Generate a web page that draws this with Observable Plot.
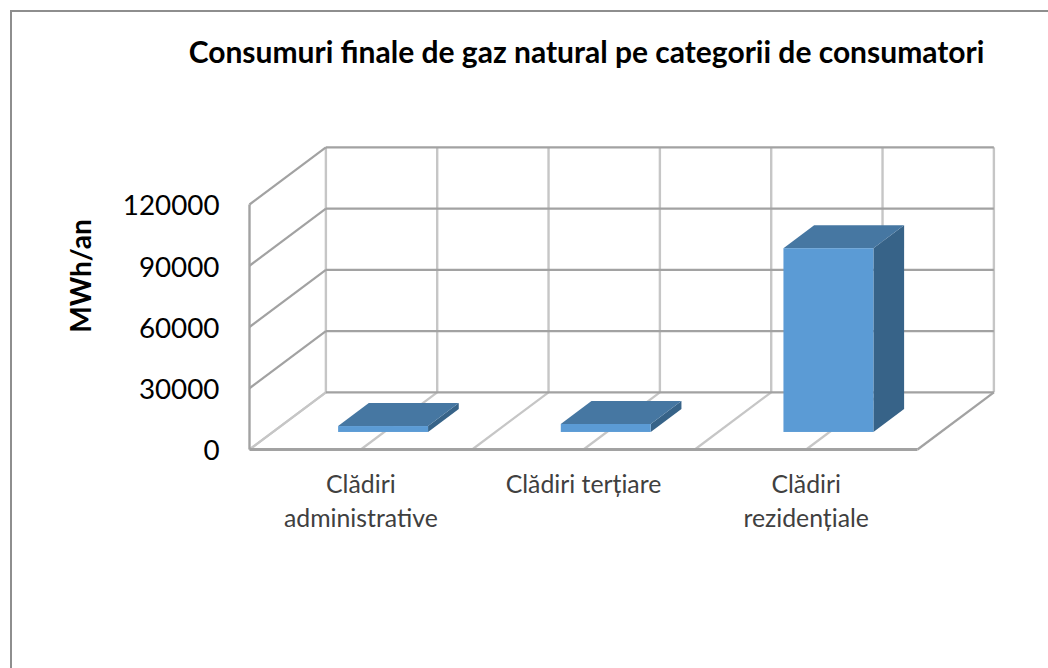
<!DOCTYPE html>
<html>
<head>
<meta charset="utf-8">
<script src="https://cdn.jsdelivr.net/npm/d3@7"></script>
<script src="https://cdn.jsdelivr.net/npm/@observablehq/plot@0.6"></script>
<style>
html,body{margin:0;padding:0;background:#fff;overflow:hidden}
#page{position:relative;width:1048px;height:668px;overflow:hidden}
#frame{position:absolute;left:10px;top:10px;width:1040px;height:660px;border-left:2px solid #8e8e8e;border-top:2px solid #8e8e8e}
#title{position:absolute;left:0;top:33px;width:1173px;text-align:center;font:700 30px Lato,sans-serif;color:#000;white-space:nowrap}
#chart{position:absolute;left:0;top:0}
</style>
</head>
<body>
<div id="page"><div id="frame"></div><div id="chart"></div><div id="title"></div></div>
<script>
const titleText = "Consumuri finale de gaz natural pe categorii de consumatori";
const yAxisLabel = "MWh/an";
const categories = ["Clădiri\nadministrative", "Clădiri terțiare", "Clădiri\nrezidențiale"];
const values = [2900, 3900, 90000];
const yTicks = [0, 30000, 60000, 90000, 120000];
const xGrid = [0, 0.5, 1, 1.5, 2, 2.5, 3];

const depthX = 0.343, depthY = 28000;     // the oblique offset of the back plane, in data units
const barFront = 0.298, barBack = 0.70, barHalf = 0.202;
const px = (x, d) => x + d * depthX;
const py = (y, d) => y + d * depthY;

const bars = values.map((v, i) => ({i, v, l: i + 0.5 - barHalf, r: i + 0.5 + barHalf}));
const sidePts = bars.flatMap(b => [barFront, barBack].map(d => ({
  i: b.i, x: px(b.r, d), y1: py(0, d), y2: py(b.v, d)
})));
const topPts = bars.flatMap(b => [barFront, barBack].map(d => ({
  i: b.i, y: py(b.v, d), x1: px(b.l, d), x2: px(b.r, d)
})));

const dark = "#a2a2a2", light = "#c6c6c6";
const plot = Plot.plot({
  width: 1048, height: 668,
  margin: 0,
  x: {domain: [0, 3], range: [249, 917], axis: null},
  y: {domain: [0, 120000], range: [449, 204], axis: null},
  style: {background: "transparent"},
  marks: [
    // back wall verticals, floor diagonals
    Plot.link(xGrid, {x1: d => px(d, 1), x2: d => px(d, 1), y1: py(0, 1), y2: py(120000, 1), stroke: light, strokeWidth: 2.4}),
    Plot.link(xGrid, {x1: d => d, x2: d => px(d, 1), y1: 0, y2: py(0, 1), stroke: d => d === 3 ? dark : light, strokeWidth: 2.2}),
    // back wall horizontals, left wall diagonals
    Plot.link(yTicks, {x1: 0, x2: px(0, 1), y1: d => d, y2: d => py(d, 1), stroke: d => d === 0 ? light : dark, strokeWidth: 2.2}),
    Plot.link(yTicks, {x1: px(0, 1), x2: px(3, 1), y1: d => py(d, 1), y2: d => py(d, 1), stroke: dark, strokeWidth: 2.4}),
    // front edges
    Plot.link([0], {x1: 0, x2: 0, y1: 0, y2: 120000, stroke: dark, strokeWidth: 2.4}),
    Plot.link([0], {x1: 0, x2: 3, y1: 0, y2: 0, stroke: dark, strokeWidth: 2.8}),
    // bars
    Plot.areaY(sidePts, {x: "x", y1: "y1", y2: "y2", z: "i", fill: "#376388"}),
    Plot.areaX(topPts, {y: "y", x1: "x1", x2: "x2", z: "i", fill: "#4677a2"}),
    Plot.rect(bars, {
      x1: d => px(d.l, barFront), x2: d => px(d.r, barFront),
      y1: py(0, barFront), y2: d => py(d.v, barFront),
      fill: "#5b9bd5"
    }),
    // axis text
    Plot.text(yTicks, {
      x: 0, y: d => d, dx: -30, dy: 2, text: d => String(d), textAnchor: "end",
      fontSize: 27.8, fontFamily: "Lato", fill: "#000"
    }),
    Plot.text(categories, {
      x: (d, i) => i + 0.5, y: 0, dy: 19, text: d => d, lineAnchor: "top", lineHeight: 1.38,
      fontSize: 24.8, fontFamily: "Lato", fill: "#404040"
    }),
    Plot.text([yAxisLabel], {
      x: 0, y: 60000, dx: -167, dy: -51, text: d => d, rotate: -90,
      fontSize: 28, fontWeight: 700, fontFamily: "Lato", fill: "#000"
    })
  ]
});
document.getElementById("chart").append(plot);
document.getElementById("title").textContent = titleText;
</script>
</body>
</html>
